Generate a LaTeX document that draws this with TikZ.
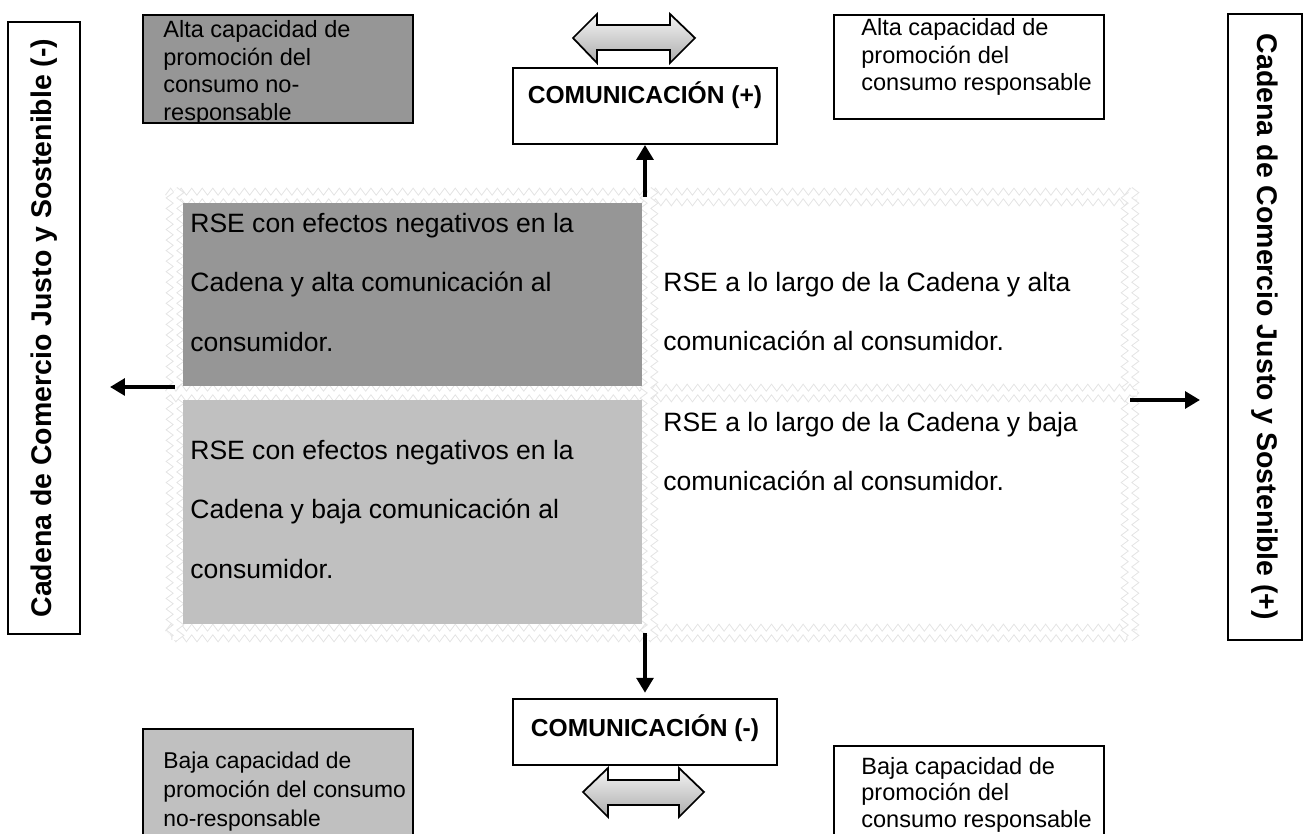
\documentclass[tikz,border=0pt]{standalone}
\usepackage{fontspec}
\setmainfont{Liberation Sans}
\usetikzlibrary{arrows.meta,decorations.pathmorphing}

\newcommand{\px}{0.02cm}
\definecolor{darkcell}{RGB}{150,150,150}
\definecolor{lightcell}{RGB}{192,192,192}
\definecolor{zigzag}{RGB}{228,228,228}

\begin{document}
\begin{tikzpicture}[x=0.02cm, y=-0.02cm,
    % Define styles
    capbox/.style={
        rectangle,
        draw,
        line width=1.1pt,
        inner sep=0pt,
        anchor=north west
    },
    cell/.style={
        rectangle,
        inner sep=0pt,
        anchor=north west
    },
    boxtext/.style={
        anchor=north west,
        align=left,
        inner sep=0pt,
        font=\fontsize{13.4}{15.8}\selectfont
    },
    celltext/.style={
        anchor=north west,
        align=left,
        inner sep=0pt,
        font=\fontsize{15.1}{33.8}\selectfont
    },
    sidebox/.style={
        rectangle,
        draw,
        line width=1.1pt,
        inner sep=0pt
    },
    sidetext/.style={
        inner sep=0pt,
        font=\fontsize{16.2}{18}\selectfont\bfseries
    },
    commbox/.style={
        rectangle,
        draw,
        line width=1.1pt,
        inner sep=0pt,
        minimum width=264*\px
    },
    commtext/.style={
        inner sep=0pt,
        font=\fontsize{14}{16}\selectfont\bfseries
    },
    arrow/.style={
        -{Triangle[length=8.5pt, width=9.5pt]},
        line width=2.3pt
    },
    zz/.style={
        draw=zigzag,
        line width=0.55pt,
        double=white,
        double distance=3pt,
        decorate,
        decoration={zigzag, amplitude=2pt, segment length=6pt}
    },
    dblarrow/.style={
        draw,
        line width=1pt,
        top color=gray!8,
        bottom color=gray!65
    }
]

\useasboundingbox (0,0) rectangle (1306,834);

% Side boxes
\node[sidebox, minimum width=72*\px, minimum height=612*\px] (chainMinus) at (44,328) {};
\node[sidetext, rotate=90] at (chainMinus.center) {Cadena de Comercio Justo y Sostenible (-)};
\node[sidebox, minimum width=74*\px, minimum height=626*\px] (chainPlus) at (1265,327) {};
\node[sidetext, rotate=-90] at (chainPlus.center) {Cadena de Comercio Justo y Sostenible (+)};

% Zigzag frame of the matrix
\node[minimum width=955*\px, minimum height=436*\px, inner sep=0pt] (grid) at (652.5,415) {};
\draw[zz] (168,197) -- (1137,197);
\draw[zz] (168,633) -- (1137,633);
\draw[zz] (175,190) -- (175,640);
\draw[zz] (1130,190) -- (1130,640);
\draw[zz] (168,393) -- (1137,393);
\draw[zz] (649,190) -- (649,640);

% Matrix cells
\node[cell, fill=darkcell, minimum width=459*\px, minimum height=183*\px] (cellAlta) at (183,203) {};
\node[cell, fill=lightcell, minimum width=459*\px, minimum height=224*\px] (cellBaja) at (183,400) {};
\node[celltext] at (190,213) {RSE con efectos negativos en la\\Cadena y alta comunicación al\\consumidor.};
\node[celltext] at (663,272) {RSE a lo largo de la Cadena y alta\\comunicación al consumidor.};
\node[celltext] at (190,440) {RSE con efectos negativos en la\\Cadena y baja comunicación al\\consumidor.};
\node[celltext] at (663,412) {RSE a lo largo de la Cadena y baja\\comunicación al consumidor.};

% Top row
\node[capbox, fill=darkcell, minimum width=270*\px, minimum height=108*\px] (altaNo) at (142,14) {};
\begin{scope}
\clip (altaNo.north west) rectangle (altaNo.south east);
\node[boxtext] at (163,20) {Alta capacidad de\\promoción del\\consumo no-\\responsable};
\end{scope}
\node[capbox, minimum width=270*\px, minimum height=104*\px] (altaSi) at (833,14) {};
\node[boxtext] at (861,18) {Alta capacidad de\\promoción del\\consumo responsable};

\node[commbox, minimum height=76*\px] (comPlus) at (645,106) {};
\node[commtext] at (645,95) {COMUNICACIÓN (+)};

% Double arrow above
\shade[dblarrow] (573,38) -- (597,14) -- (597,25) -- (670,25) -- (670,14) -- (695,38)
    -- (670,63) -- (670,50) -- (597,50) -- (597,63) -- cycle;

% Bottom row
\node[commbox, minimum height=66*\px] (comMinus) at (645,732) {};
\node[commtext] at (645,728) {COMUNICACIÓN (-)};

\shade[dblarrow] (583,792) -- (608,768) -- (608,780) -- (679,780) -- (679,768) -- (704,792)
    -- (679,817) -- (679,805) -- (608,805) -- (608,817) -- cycle;

\node[capbox, fill=lightcell, minimum width=270*\px, minimum height=106*\px] (bajaNo) at (142,728) {};
\node[boxtext, font=\fontsize{13}{16.3}\selectfont] at (163,752) {Baja capacidad de\\promoción del consumo\\no-responsable};
\node[capbox, minimum width=270*\px, minimum height=89*\px] (bajaSi) at (833,745) {};
\node[boxtext, font=\fontsize{13.4}{15}\selectfont] at (861,757) {Baja capacidad de\\promoción del\\consumo responsable};

% Arrows out of the matrix
\coordinate (leftEnd) at (110,387);
\coordinate (rightEnd) at (1200,400);
\draw[arrow] (grid.north -| comPlus.south) -- (comPlus.south);
\draw[arrow, shorten >=3pt] (grid.south -| comMinus.north) -- (comMinus.north);
\draw[arrow] (leftEnd -| grid.west) -- (leftEnd);
\draw[arrow] (rightEnd -| grid.east) -- (rightEnd);
\end{tikzpicture}
\end{document}
